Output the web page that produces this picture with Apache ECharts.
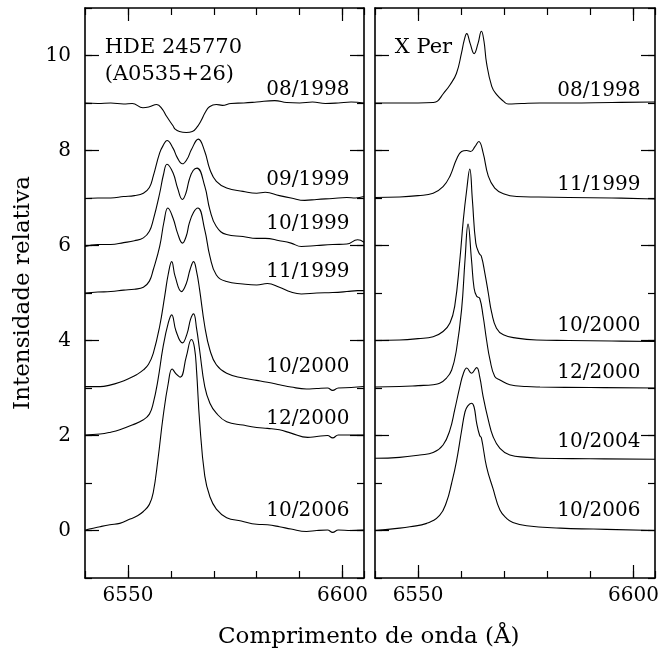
<!DOCTYPE html>
<html>
<head>
<meta charset="utf-8">
<script src="https://cdn.jsdelivr.net/npm/echarts@6/dist/echarts.min.js"></script>
<style>html,body{margin:0;padding:0;background:#fff}#c{width:663px;height:651px}</style>
</head>
<body>
<div id="c"></div>
<script>
// ---------- DATA ----------
// Left panel: HDE 245770 (A0535+26)
const L_0898_x = [6540,6543,6546,6549,6551,6553.5,6555,6556.7,6558,6559,6560.5,6561,6562,6563.6,6565,6566,6567,6568,6569,6570.6,6572,6574,6577,6580,6584.2,6587,6590,6593,6596,6599,6602,6605];
const L_0898_y = [9.0,8.99,9.0,8.98,8.99,8.9,8.92,8.97,8.87,8.72,8.52,8.45,8.40,8.38,8.40,8.48,8.62,8.80,8.92,8.97,8.95,8.99,9.0,9.02,9.05,9.01,9.0,9.02,8.99,9.0,9.02,9.0];
const L_0999_x = [6540,6543,6546,6549,6551.5,6553.6,6555,6555.9,6557.4,6558.3,6559.1,6560.5,6561.5,6562.7,6563.8,6564.8,6566.4,6567.9,6569.1,6570.6,6573,6576.8,6580,6582,6585.3,6588,6591.2,6594,6597.7,6601,6603,6605];
const L_0999_y = [6.99,7.0,7.0,7.03,7.05,7.1,7.22,7.46,7.95,8.12,8.21,8.05,7.85,7.72,7.82,8.02,8.24,7.98,7.6,7.35,7.21,7.14,7.1,7.12,7.05,7.0,6.95,6.97,6.99,7.01,7.0,7.03];
const L_1099_x = [6540,6543,6546,6549,6551.5,6553.6,6555,6555.9,6557.4,6558.3,6559.1,6560.5,6561.6,6562.7,6563.5,6564.3,6565.2,6566.1,6567.9,6569.1,6570.6,6573,6576.8,6580,6582,6585.3,6588,6590.4,6594,6597.7,6601,6603.5,6605];
const L_1099_y = [5.98,6.02,6.02,6.06,6.1,6.16,6.3,6.54,7.1,7.5,7.71,7.53,7.2,6.97,7.1,7.39,7.58,7.63,7.25,6.75,6.4,6.23,6.19,6.15,6.15,6.1,6.05,5.98,6.0,6.02,6.03,6.12,6.07];
const L_1199_x = [6540,6543,6546,6549,6551.5,6553.6,6555,6555.9,6557.4,6558.4,6559.3,6560.5,6561.6,6562.7,6563.6,6564.3,6565.3,6566.3,6567.9,6569.1,6570.6,6573,6576.8,6580,6582.5,6585.3,6588,6590.4,6594,6597.7,6601,6603.5,6605];
const L_1199_y = [5.0,5.02,5.03,5.06,5.08,5.12,5.25,5.49,5.98,6.5,6.79,6.58,6.25,6.05,6.2,6.47,6.7,6.79,6.33,5.77,5.38,5.24,5.19,5.17,5.2,5.12,5.02,4.98,5.0,5.01,5.03,5.05,5.05];
const L_1000_x = [6540,6543.5,6545.8,6548.1,6550.5,6552,6553.6,6554.8,6555.9,6557.4,6558.6,6559.4,6560.2,6561,6562.5,6563.6,6564.5,6565.3,6566,6566.7,6567.9,6569.1,6570.6,6573,6576.8,6580,6582.5,6585.3,6588,6591.6,6594,6596.5,6597.7,6599,6602,6605];
const L_1000_y = [3.03,3.03,3.06,3.12,3.21,3.28,3.38,3.5,3.73,4.3,4.95,5.4,5.66,5.35,5.03,5.2,5.5,5.66,5.45,5.07,4.3,3.8,3.49,3.31,3.21,3.16,3.12,3.07,3.02,2.98,2.99,3.0,2.95,3.0,3.01,3.03];
const L_1200_x = [6540,6543.5,6546,6548.1,6551,6553.6,6555,6555.9,6557,6558.2,6559.4,6560.2,6561.2,6562.7,6563.8,6564.6,6565.3,6566,6566.7,6567.9,6569.1,6570.6,6573,6576.8,6580,6582.5,6585.3,6588,6591.9,6594,6596.5,6597.7,6599,6602,6605];
const L_1200_y = [2.01,2.03,2.07,2.12,2.22,2.33,2.45,2.68,3.17,3.87,4.37,4.54,4.2,3.95,4.15,4.45,4.56,4.25,3.8,3.03,2.68,2.47,2.29,2.22,2.17,2.15,2.12,2.05,1.96,1.98,2.0,1.95,2.01,2.01,2.01];
const L_1006_x = [6540,6541,6543.5,6545.8,6548.1,6550.5,6552,6553.6,6555,6555.9,6557,6558.2,6559.4,6560.3,6561.2,6562.2,6563.6,6564.8,6565.5,6566,6566.7,6567.9,6569.1,6570.6,6573,6576.4,6580,6582.5,6585.3,6588,6591.6,6594,6596.5,6597.7,6599,6602,6605];
const L_1006_y = [0.0,0.03,0.08,0.12,0.15,0.24,0.3,0.4,0.55,0.8,1.5,2.4,3.1,3.4,3.3,3.23,3.66,4.02,3.85,3.35,2.3,1.15,0.71,0.45,0.27,0.2,0.13,0.12,0.08,0.03,-0.02,0.0,0.01,-0.04,0.01,0.0,0.01];

// Right panel: X Per
const R_0898_x = [6540,6545.7,6550,6553.5,6554.5,6555.8,6557.4,6558.9,6560.1,6560.7,6561.3,6562.1,6563,6563.9,6564.7,6565.3,6565.9,6567.1,6568.2,6569.8,6570.9,6574,6578.3,6585,6595,6605];
const R_0898_y = [9.0,9.0,9.0,9.01,9.04,9.19,9.38,9.62,10.06,10.32,10.46,10.25,10.04,10.25,10.51,10.3,9.84,9.35,9.18,9.04,8.98,8.99,9.0,9.0,9.01,9.02];
const R_1199_x = [6540,6545.7,6550,6553.5,6555.8,6557.4,6558.9,6560.1,6561.3,6562.2,6563.2,6564.1,6565.1,6566.3,6567.8,6569.8,6572.9,6578,6585,6595,6605];
const R_1199_y = [7.01,7.02,7.05,7.1,7.24,7.46,7.81,7.98,8.0,7.98,8.08,8.19,7.95,7.46,7.21,7.09,7.03,7.02,7.01,7.0,6.98];
const R_1000_x = [6540,6545.7,6550,6553.5,6555.8,6557.4,6558.5,6559.7,6560.5,6561.3,6562.0,6562.6,6563.4,6564.2,6564.7,6565.5,6566.3,6567.1,6568.2,6569.8,6572.9,6577.5,6585,6595,6605];
const R_1000_y = [4.0,4.01,4.04,4.08,4.19,4.37,4.72,5.7,6.54,7.18,7.61,6.97,6.05,5.83,5.77,5.42,5.0,4.58,4.26,4.12,4.05,4.01,4.0,3.99,3.98];
const R_1200_x = [6540,6545.7,6550,6553.5,6555,6556.6,6557.8,6558.9,6560.1,6560.9,6561.6,6562.4,6563.0,6563.6,6564.3,6565.1,6565.9,6566.7,6567.8,6569,6571.3,6575.2,6578.3,6590,6605];
const R_1200_y = [3.02,3.03,3.05,3.07,3.1,3.21,3.38,3.8,4.65,5.7,6.45,5.7,5.1,4.93,4.89,4.51,4.01,3.59,3.24,3.17,3.07,3.03,3.02,3.01,3.0];
const R_1004_x = [6540,6545.7,6550.4,6553.5,6555.8,6557.4,6558.5,6559.7,6560.5,6561.3,6562.4,6563.6,6564.3,6565.1,6566.3,6567.4,6569,6571.3,6575.2,6578.3,6590,6605];
const R_1004_y = [1.52,1.54,1.59,1.64,1.8,2.12,2.54,3.03,3.3,3.42,3.31,3.43,3.24,2.82,2.33,1.98,1.73,1.59,1.54,1.52,1.51,1.5];
const R_1006_x = [6540,6545.7,6548.1,6552,6555,6556.6,6557.8,6558.9,6560.1,6560.9,6561.5,6562.4,6563,6563.6,6564.3,6564.7,6565.9,6567.4,6569,6570.6,6572,6575.2,6583,6590.7,6605];
const R_1006_y = [0.0,0.05,0.08,0.15,0.32,0.6,1.0,1.45,2.1,2.5,2.62,2.68,2.6,2.26,2.0,1.95,1.34,0.88,0.43,0.25,0.17,0.1,0.05,0.03,0.0];

const leftDates  = ['08/1998','09/1999','10/1999','11/1999','10/2000','12/2000','10/2006'];
const rightDates = ['08/1998','11/1999','10/2000','12/2000','10/2004','10/2006'];
const xTickLabels = [6550, 6600];
const yTickLabels = [0, 2, 4, 6, 8, 10];

// ---------- LAYOUT / STYLE ----------
const leftLabelY  = [9.28, 7.39, 6.46, 5.45, 3.44, 2.36, 0.41];
const rightLabelY = [9.25, 7.28, 4.31, 3.31, 1.87, 0.41];
const labelX = 6601.6;
const FONT = 'DejaVu Serif';
const leftSeries  = [[L_0898_x,L_0898_y],[L_0999_x,L_0999_y],[L_1099_x,L_1099_y],[L_1199_x,L_1199_y],[L_1000_x,L_1000_y],[L_1200_x,L_1200_y],[L_1006_x,L_1006_y]];
const rightSeries = [[R_0898_x,R_0898_y],[R_1199_x,R_1199_y],[R_1000_x,R_1000_y],[R_1200_x,R_1200_y],[R_1004_x,R_1004_y],[R_1006_x,R_1006_y]];

const grids = [
  {left: 85, top: 8, width: 279, height: 570},
  {left: 375, top: 8, width: 280, height: 570}
];
const XMIN = 6540, XMAX = 6605, YMIN = -1, YMAX = 11;
const lineCol = '#000';
const plain = v => String(v);

const xAxes = [], yAxes = [];
grids.forEach((g, gi) => {
  xAxes.push({gridIndex: gi, type: 'value', position: 'bottom', min: XMIN, max: XMAX,
    axisLine: {show: true, onZero: false, lineStyle: {color: lineCol, width: 1.6}},
    axisTick: {show: true, inside: true, length: 13, customValues: xTickLabels, lineStyle: {color: lineCol, width: 1.2}},
    axisLabel: {show: true, customValues: xTickLabels, formatter: plain, fontFamily: FONT, fontSize: 20, color: '#000', margin: 8},
    splitLine: {show: false}});
  xAxes.push({gridIndex: gi, type: 'value', position: 'bottom', min: XMIN, max: XMAX, interval: 10,
    axisLine: {show: false, onZero: false}, axisTick: {show: true, inside: true, length: 7, lineStyle: {color: lineCol, width: 1.2}},
    axisLabel: {show: false}, splitLine: {show: false}});
  xAxes.push({gridIndex: gi, type: 'value', position: 'top', min: XMIN, max: XMAX,
    axisLine: {show: true, onZero: false, lineStyle: {color: lineCol, width: 1.6}},
    axisTick: {show: true, inside: true, length: 13, customValues: xTickLabels, lineStyle: {color: lineCol, width: 1.2}},
    axisLabel: {show: false}, splitLine: {show: false}});
  xAxes.push({gridIndex: gi, type: 'value', position: 'top', min: XMIN, max: XMAX, interval: 10,
    axisLine: {show: false, onZero: false}, axisTick: {show: true, inside: true, length: 7, lineStyle: {color: lineCol, width: 1.2}},
    axisLabel: {show: false}, splitLine: {show: false}});

  yAxes.push({gridIndex: gi, type: 'value', position: 'left', min: YMIN, max: YMAX,
    name: gi === 0 ? 'Intensidade relativa' : '', nameLocation: 'middle', nameGap: 50, nameRotate: 90,
    nameTextStyle: {fontFamily: FONT, fontSize: 23, color: '#000'},
    axisLine: {show: true, onZero: false, lineStyle: {color: lineCol, width: 1.6}},
    axisTick: {show: true, inside: true, length: 14, customValues: yTickLabels, lineStyle: {color: lineCol, width: 1.2}},
    axisLabel: {show: gi === 0, customValues: yTickLabels, formatter: plain, fontFamily: FONT, fontSize: 20, color: '#000', margin: 14},
    splitLine: {show: false}});
  yAxes.push({gridIndex: gi, type: 'value', position: 'left', min: YMIN, max: YMAX, interval: 1,
    axisLine: {show: false, onZero: false}, axisTick: {show: true, inside: true, length: 7, lineStyle: {color: lineCol, width: 1.2}},
    axisLabel: {show: false}, splitLine: {show: false}});
  yAxes.push({gridIndex: gi, type: 'value', position: 'right', min: YMIN, max: YMAX,
    axisLine: {show: true, onZero: false, lineStyle: {color: lineCol, width: 1.6}},
    axisTick: {show: true, inside: true, length: 14, customValues: yTickLabels, lineStyle: {color: lineCol, width: 1.2}},
    axisLabel: {show: false}, splitLine: {show: false}});
  yAxes.push({gridIndex: gi, type: 'value', position: 'right', min: YMIN, max: YMAX, interval: 1,
    axisLine: {show: false, onZero: false}, axisTick: {show: true, inside: true, length: 7, lineStyle: {color: lineCol, width: 1.2}},
    axisLabel: {show: false}, splitLine: {show: false}});
});

const series = [];
function addLines(arr, gi) {
  arr.forEach(([xs, ys]) => {
    series.push({type: 'line', xAxisIndex: gi * 4, yAxisIndex: gi * 4, showSymbol: false, symbol: 'none',
      smooth: 0.45, animation: false, silent: true,
      lineStyle: {color: '#000', width: 1.1},
      data: xs.map((x, i) => [x, ys[i]])});
  });
}
addLines(leftSeries, 0);
addLines(rightSeries, 1);

function addText(texts, xs, ys, gi, pos, size) {
  series.push({type: 'scatter', xAxisIndex: gi * 4, yAxisIndex: gi * 4, symbolSize: 0, animation: false, silent: true,
    itemStyle: {opacity: 1},
    data: texts.map((t, i) => ({value: [xs[i], ys[i]], name: t})),
    label: {show: true, position: pos, distance: 0, formatter: p => p.name, opacity: 1,
      fontFamily: FONT, fontSize: size, color: '#000'}});
}
addText(leftDates, leftDates.map(() => labelX), leftLabelY, 0, 'left', 20);
addText(rightDates, rightDates.map(() => labelX), rightLabelY, 1, 'left', 20);
// panel titles
addText(['HDE 245770', '(A0535+26)'], [6544.6, 6544.6], [10.17, 9.6], 0, 'right', 21);
addText(['X Per'], [6544.6], [10.17], 1, 'right', 21);

const chart = echarts.init(document.getElementById('c'), null, {renderer: 'canvas'});
chart.setOption({
  animation: false,
  backgroundColor: '#fff',
  grid: grids,
  xAxis: xAxes,
  yAxis: yAxes,
  series: series,
  graphic: [{type: 'text', left: 218, top: 626,
    style: {text: 'Comprimento de onda (Å)', fontFamily: FONT, fontSize: 23, fill: '#000'}}]
});
</script>
</body>
</html>
